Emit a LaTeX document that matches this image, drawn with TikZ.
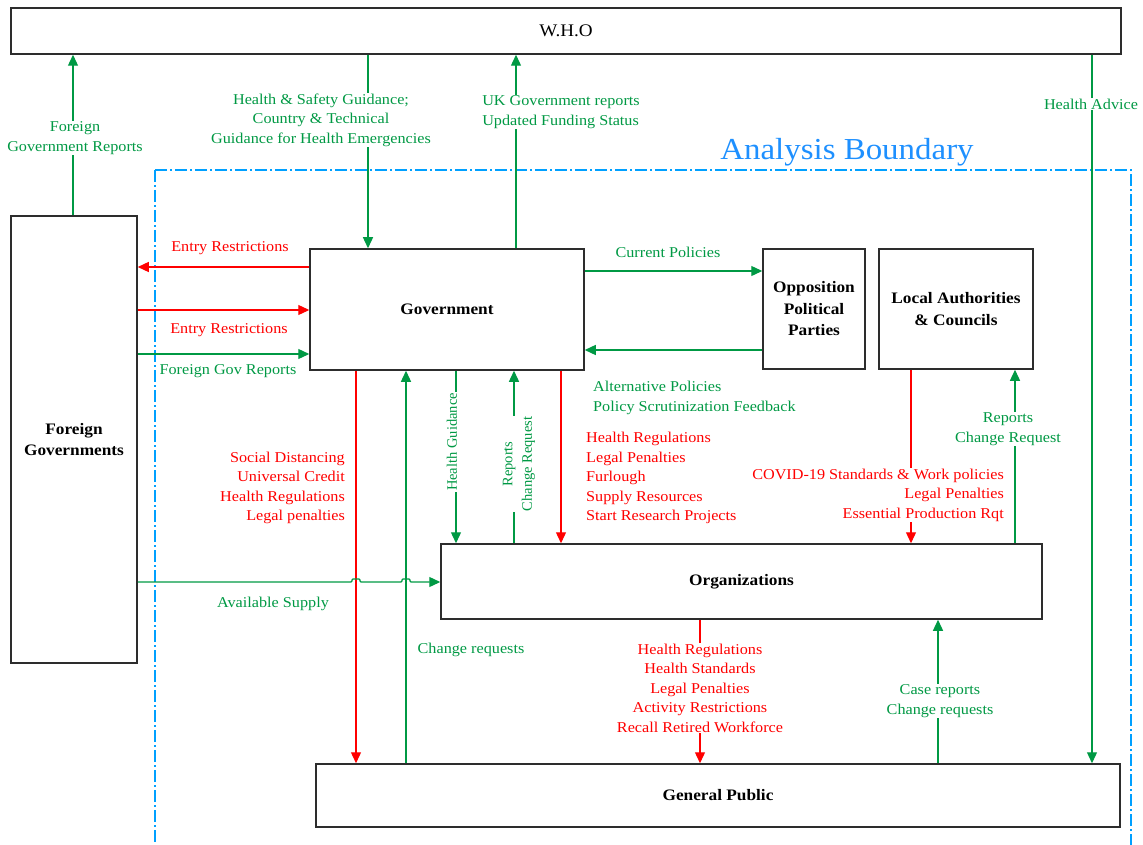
\documentclass[tikz,border=0pt]{standalone}
\usepackage{fontspec}
\setmainfont[FakeStretch=1.08]{Liberation Serif}
\newfontfamily\plainserif{Liberation Serif}
\usetikzlibrary{arrows.meta}
\definecolor{gr}{RGB}{0,153,68}
\definecolor{rd}{RGB}{255,0,0}
\definecolor{bl}{RGB}{0,160,255}
\definecolor{bltext}{RGB}{30,144,255}
\definecolor{boxc}{RGB}{45,45,45}
\begin{document}
\begin{tikzpicture}[x=1pt,y=-1pt,
  box/.style={draw=boxc, line width=1.5pt, fill=white, inner sep=0pt, align=center,
    font=\fontsize{16}{21.5}\selectfont\bfseries},
  garr/.style={draw=gr, line width=1.3pt, -{Triangle[length=11pt,width=10pt]}},
  rarr/.style={draw=rd, line width=1.3pt, -{Triangle[length=11pt,width=10pt]}},
  glab/.style={text=gr, font=\fontsize{15}{19.5}\selectfont, align=center, inner sep=1pt},
  rlab/.style={text=rd, font=\fontsize{15}{19.5}\selectfont, align=center, inner sep=1pt},
  vlab/.style={text=gr, font=\plainserif\fontsize{14.5}{19.5}\selectfont, align=center, inner sep=1pt, fill=white, rotate=90},
  wf/.style={fill=white}
]
\useasboundingbox (0,0) rectangle (1143,845);
% analysis boundary
\draw[bl, line width=1.2pt, dash pattern=on 12pt off 3pt on 2pt off 3pt] (155,170) rectangle (1131,850);
\node[text=bltext, font=\fontsize{30.5}{34}\selectfont] (ab) at (847,152) {Analysis Boundary};

% boxes
\node[box, minimum width=1110pt, minimum height=46pt, font=\fontsize{17.7}{20}\selectfont] (who) at (566,31) {W.H.O};
\node[box, minimum width=126pt, minimum height=447pt] (fg) at (74,439.5) {Foreign\\Governments};
\node[box, minimum width=274pt, minimum height=121pt] (gov) at (447,309.5) {Government};
\node[box, minimum width=102pt, minimum height=120pt] (opp) at (814,309) {Opposition\\Political\\Parties};
\node[box, minimum width=154pt, minimum height=120pt] (la) at (956,309) {Local Authorities\\\& Councils};
\node[box, minimum width=601pt, minimum height=75pt] (org) at (741.5,581.5) {Organizations};
\node[box, minimum width=804pt, minimum height=63pt] (gp) at (718,795.5) {General Public};

% WHO connections
\draw[garr] (73,0 |- fg.north) -- (73,0 |- who.south);
\node[glab, wf] (l1) at (75,138) {Foreign\\Government Reports};
\draw[garr] (368,0 |- who.south) -- (368,0 |- gov.north);
\node[glab, wf] (l2) at (321,120) {Health \& Safety Guidance;\\Country \& Technical\\Guidance for Health Emergencies};
\draw[garr] (516,0 |- gov.north) -- (516,0 |- who.south);
\node[glab, wf, align=left] (l3) at (561,112) {UK Government reports\\Updated Funding Status};
\draw[garr] (1092,0 |- who.south) -- (1092,0 |- gp.north);
\node[glab, wf] (l4) at (1091,104) {Health Advice};

% foreign governments <-> government
\draw[rarr] (gov.west |- 0,267) -- (fg.east |- 0,267);
\node[rlab] (l5) at (230,248) {Entry Restrictions};
\draw[rarr] (fg.east |- 0,310) -- (gov.west |- 0,310);
\node[rlab] (l6) at (229,330) {Entry Restrictions};
\draw[garr] (fg.east |- 0,354) -- (gov.west |- 0,354);
\node[glab] (l7) at (228,371) {Foreign Gov Reports};

% government <-> opposition
\draw[garr] (gov.east |- 0,271) -- (opp.west |- 0,271);
\node[glab] (l8) at (668,252) {Current Policies};
\draw[garr] (opp.west |- 0,350) -- (gov.east |- 0,350);
\node[glab, align=left, anchor=west] (l9) at (592,398) {Alternative Policies\\Policy Scrutinization Feedback};

% government <-> general public
\draw[rarr] (356,0 |- gov.south) -- (356,0 |- gp.north);
\node[rlab, align=right, anchor=east] (l10) at (346,488) {Social Distancing\\Universal Credit\\Health Regulations\\Legal penalties};
\draw[garr] (406,0 |- gp.north) -- (406,0 |- gov.south);
\node[glab] (l11) at (471,650) {Change requests};

% government <-> organizations
\draw[garr] (456,0 |- gov.south) -- (456,0 |- org.north);
\node[vlab] (l12) at (452,442) {Health Guidance};
\draw[garr] (514,0 |- org.north) -- (514,0 |- gov.south);
\node[vlab] (l13) at (519,464) {Reports\\Change Request};
\draw[rarr] (561,0 |- gov.south) -- (561,0 |- org.north);
\node[rlab, align=left, anchor=west] (l14) at (585,478) {Health Regulations\\Legal Penalties\\Furlough\\Supply Resources\\Start Research Projects};

% local authorities <-> organizations
\draw[rarr] (911,0 |- la.south) -- (911,0 |- org.north);
\node[rlab, wf, align=right, anchor=east] (l15) at (1005,495) {COVID-19 Standards \& Work policies\\Legal Penalties\\Essential Production Rqt};
\draw[garr] (1015,0 |- org.north) -- (1015,0 |- la.south);
\node[glab, wf] (l16) at (1008,429) {Reports\\Change Request};

% foreign governments -> organizations (with hops)
\draw[garr, rounded corners=1pt] (fg.east |- 0,582) -- (352,582) -- ++(0,-3) -- ++(8,0) -- ++(0,3)
  -- (402,582) -- ++(0,-3) -- ++(8,0) -- ++(0,3) -- (org.west |- 0,582);
\node[glab] (l17) at (273,604) {Available Supply};

% organizations <-> general public
\draw[rarr] (700,0 |- org.south) -- (700,0 |- gp.north);
\node[rlab, wf] (l18) at (700,688) {Health Regulations\\Health Standards\\Legal Penalties\\Activity Restrictions\\Recall Retired Workforce};
\draw[garr] (938,0 |- gp.north) -- (938,0 |- org.south);
\node[glab, wf] (l19) at (940,701) {Case reports\\Change requests};
\end{tikzpicture}
\end{document}
